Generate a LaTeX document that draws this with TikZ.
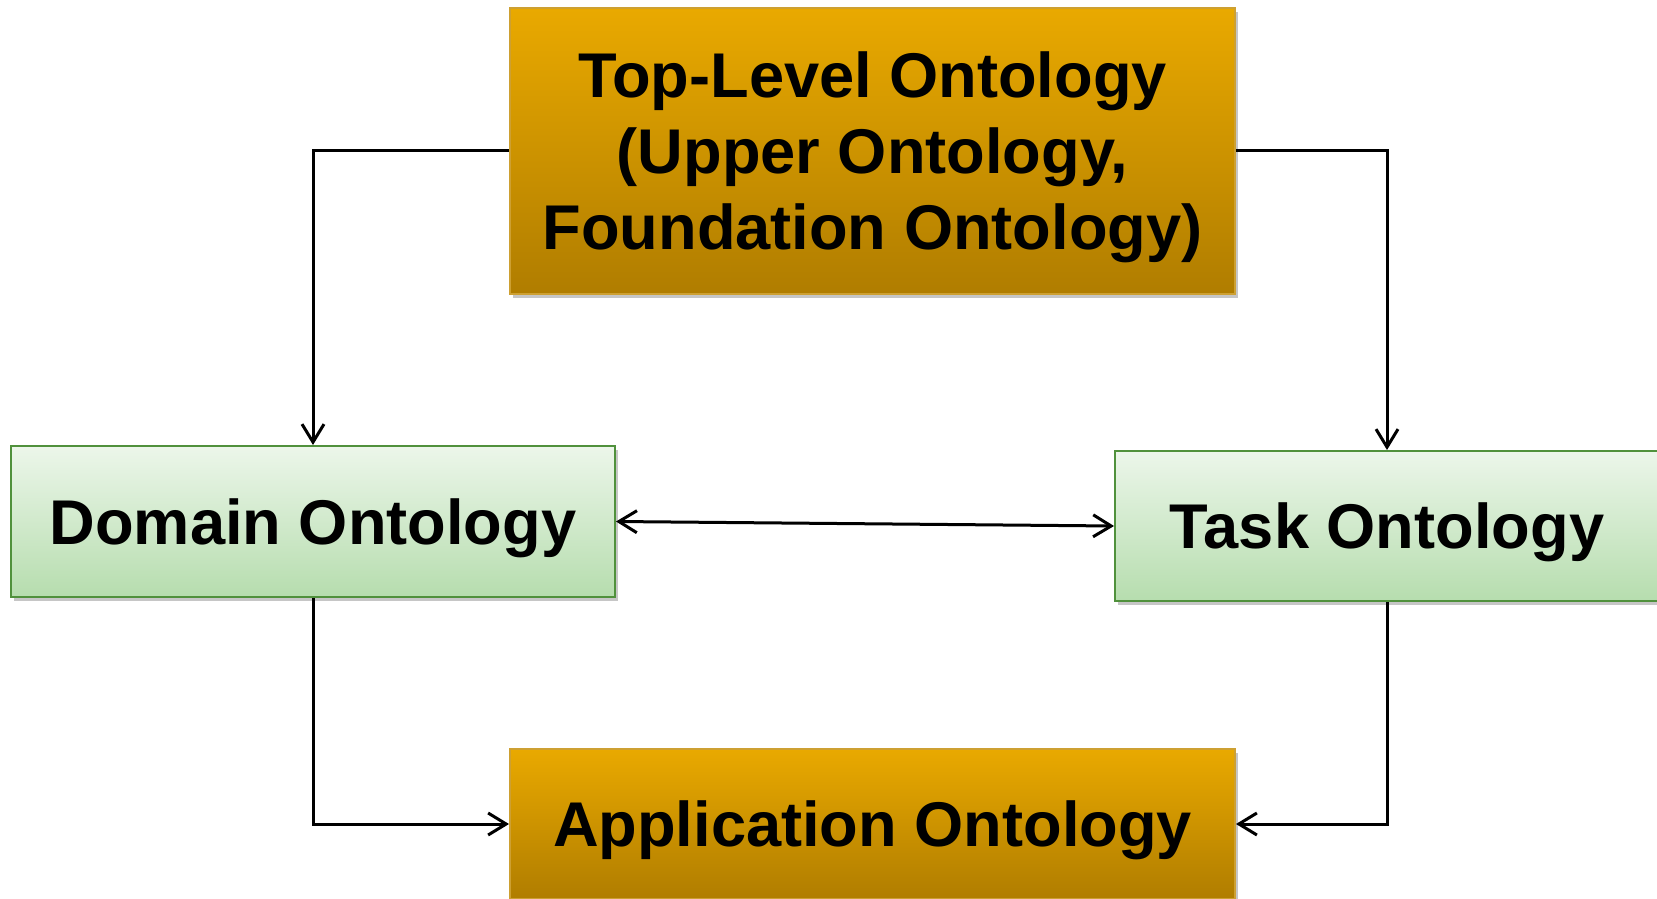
\documentclass[tikz,border=0pt]{standalone}
\usepackage{fontspec}
\setmainfont{Liberation Sans}
\usepackage{tikz}
\usetikzlibrary{arrows.meta,shadows}

\definecolor{goldtop}{RGB}{233,169,0}
\definecolor{goldbot}{RGB}{176,125,0}
\definecolor{goldline}{RGB}{205,160,50}
\definecolor{greentop}{RGB}{236,246,234}
\definecolor{greenbot}{RGB}{182,221,174}
\definecolor{greenline}{RGB}{80,145,60}

\tikzset{
  goldbox/.style={draw=goldline,line width=1pt,top color=goldtop,bottom color=goldbot,
    drop shadow={shadow xshift=1.5pt,shadow yshift=-2pt,opacity=0.45},
    align=center,inner sep=0pt,text depth=-1.5pt,font=\bfseries\fontsize{31.6}{38}\selectfont},
  greenbox/.style={draw=greenline,line width=1pt,top color=greentop,bottom color=greenbot,
    drop shadow={shadow xshift=1.5pt,shadow yshift=-2pt,opacity=0.45},
    align=center,inner sep=0pt,text depth=-1.5pt,font=\bfseries\fontsize{31.6}{38}\selectfont},
  barb/.tip={Straight Barb[length=9pt,width=11pt,line width=1.5pt]},
  conn/.style={line width=1.5pt,-barb},
  conn2/.style={line width=1.5pt,barb-barb}
}

\begin{document}
\begin{tikzpicture}[x=0.5pt,y=0.5pt,yscale=-1,xscale=1]
\useasboundingbox (0,0) rectangle (1657,898);

% Top-level box
\node (top) at (872.5,151) [goldbox,minimum width=362.5pt,minimum height=143pt] {Top-Level Ontology\\(Upper Ontology,\\Foundation Ontology)};
% Domain box
\node (dom) at (313,521.5) [greenbox,minimum width=302pt,minimum height=75.5pt] {Domain Ontology};
% Task box
\node (task) at (1387,526) [greenbox,minimum width=272pt,minimum height=75pt] {Task Ontology};
% Application box
\node (app) at (872.5,824) [goldbox,minimum width=362.5pt,minimum height=75pt] {Application Ontology};

% Connectors
\draw [conn] (top.west) -| (dom.north);
\draw [conn] (top.east) -| (task.north);
\draw [conn] (dom.south) |- (app.west);
\draw [conn] (task.south) |- (app.east);
\draw [conn2] (dom.east) -- (task.west);

\end{tikzpicture}
\end{document}
